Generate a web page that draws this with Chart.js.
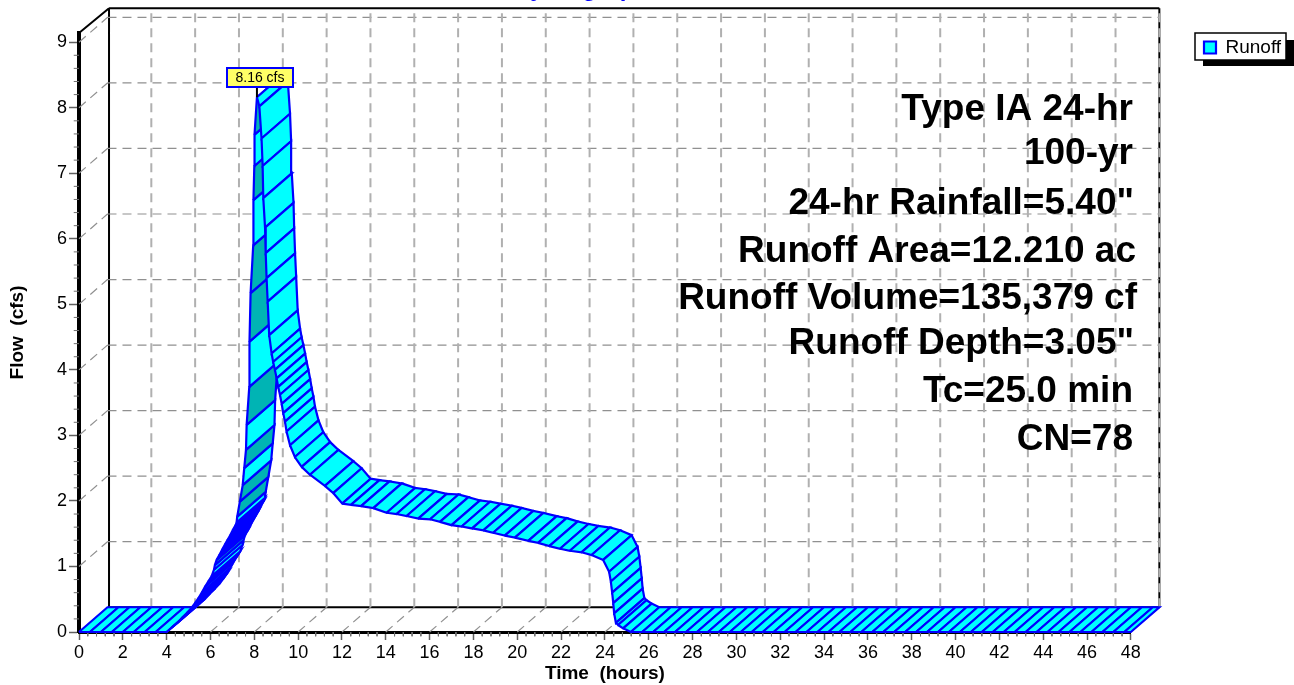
<!DOCTYPE html>
<html lang="en">
<head>
  <meta charset="UTF-8" />
  <title>Hydrograph</title>
  <script src="https://cdn.jsdelivr.net/npm/chart.js"></script>
  <style>
    body { margin: 0; padding: 0; background: #fff; }
    canvas { display: block; }
  </style>
</head>
<body>
  <canvas id="hydrograph" width="1294" height="685"></canvas>

  <script>
    // hydrograph vertices, one per hatch line
    const timeHours = [
      0, 0.5, 1, 1.5, 2, 2.5, 3, 3.5, 4,
      4.23, 4.46, 4.68, 4.91, 5.14, 5.29, 5.44, 5.6, 5.75, 5.9, 6.05, 6.16, 6.2, 6.28, 6.4, 6.52, 6.65, 6.77, 6.89, 7.01, 7.13, 7.19,
      7.22, 7.34, 7.47, 7.54, 7.62, 7.65, 7.77, 7.78, 7.83, 7.95, 7.96, 8.0, 8.01, 8.12,
      8.23, 8.33, 8.38, 8.41, 8.49, 8.52, 8.56, 8.61, 8.68, 8.79, 8.86, 8.94, 9.02, 9.09, 9.17, 9.25, 9.32, 9.4, 9.47, 9.63, 9.85, 10.16, 10.54, 11.22, 11.6,
      12.01, 12.41, 12.87, 13.43, 14.04, 14.49, 14.95, 15.48, 16.02, 16.47, 17.0, 17.46, 17.94, 18.45, 18.9, 19.43, 19.89, 20.5, 20.95, 21.46, 21.95, 22.4, 22.93, 23.39,
      23.92, 24.19, 24.27, 24.33, 24.38, 24.42, 24.5, 24.6, 24.83, 25.18,
      25.7, 26.2, 26.7, 27.2, 27.7, 28.2, 28.7, 29.2, 29.7, 30.2, 30.7, 31.2, 31.7, 32.2, 32.7, 33.2, 33.7, 34.2, 34.7, 35.2, 35.7, 36.2, 36.7, 37.2, 37.7, 38.2, 38.7, 39.2, 39.7, 40.2, 40.7, 41.2, 41.7, 42.2, 42.7, 43.2, 43.7, 44.2, 44.7, 45.2, 45.7, 46.2, 46.7, 47.2, 47.7, 48
    ];
    const flowCfs = [
      0, 0, 0, 0, 0, 0, 0, 0, 0,
      0.066, 0.13, 0.21, 0.285, 0.37, 0.44, 0.51, 0.6, 0.69, 0.77, 0.85, 0.95, 1.02, 1.1, 1.17, 1.25, 1.33, 1.4, 1.47, 1.55, 1.62, 1.67,
      1.76, 1.99, 2.24, 2.5, 2.78, 3.16, 3.74, 4.43, 5.17, 5.9, 6.59, 7.11, 7.59, 8.16,
      8.02, 7.53, 7.11, 6.62, 6.17, 5.78, 5.4, 5.04, 4.53, 4.25, 4.12, 4.0, 3.87, 3.74, 3.62, 3.48, 3.34, 3.21, 3.06, 2.85, 2.67, 2.52, 2.4, 2.23, 2.12,
      1.96, 1.94, 1.92, 1.89, 1.82, 1.8, 1.77, 1.73, 1.72, 1.68, 1.63, 1.61, 1.58, 1.55, 1.515, 1.47, 1.44, 1.39, 1.36, 1.31, 1.27, 1.24, 1.216, 1.175,
      1.1, 0.92, 0.77, 0.6, 0.44, 0.285, 0.14, 0.107, 0.056, 0,
      0, 0, 0, 0, 0, 0, 0, 0, 0, 0, 0, 0, 0, 0, 0, 0, 0, 0, 0, 0, 0, 0, 0, 0, 0, 0, 0, 0, 0, 0, 0, 0, 0, 0, 0, 0, 0, 0, 0, 0, 0, 0, 0, 0, 0, 0
    ];
    // rising-limb bands that come out darker, by flow at their lower edge
    const darkBandFlows = [1.02, 1.25, 1.47, 1.76, 1.99, 2.5, 3.16, 4.43, 5.17, 6.59, 7.59];

    const timeTicks = [0, 2, 4, 6, 8, 10, 12, 14, 16, 18, 20, 22, 24, 26, 28, 30, 32, 34, 36, 38, 40, 42, 44, 46, 48];
    const flowTicks = [0, 1, 2, 3, 4, 5, 6, 7, 8, 9];
    const annotationLines = [
      'Type IA 24-hr', '100-yr', '24-hr Rainfall=5.40"', 'Runoff Area=12.210 ac',
      'Runoff Volume=135,379 cf', 'Runoff Depth=3.05"', 'Tc=25.0 min', 'CN=78'
    ];

    const FONT = '"Liberation Sans", Arial, sans-serif';
    Chart.defaults.font.family = FONT;

    // 3d box: depth offset of the back wall, in axis units
    const depthX = 1.3;
    const depthY = 0.378;
    const xMax = 48;
    const yMax = 9.14;

    const gap = { x: null, y: null };
    const segments = list => list.flatMap(([a, b]) => [a, b, gap]);

    const wallVerticals = segments(
      timeTicks.slice(1).map(t => [{ x: t + depthX, y: depthY }, { x: t + depthX, y: yMax + depthY }])
    );
    const wallLines = segments([
      ...timeTicks.slice(1).map(t => [{ x: t, y: 0 }, { x: t + depthX, y: depthY }]),
      ...flowTicks.slice(1).map(q => [{ x: depthX, y: q + depthY }, { x: xMax + depthX, y: q + depthY }]),
      ...flowTicks.slice(1).map(q => [{ x: 0, y: q }, { x: depthX, y: q + depthY }])
    ]);

    const backX = depthX + 0.07;
    const frameLines = segments([
      [{ x: 0, y: yMax }, { x: backX, y: yMax + depthY }],
      [{ x: backX, y: yMax + depthY }, { x: xMax + depthX, y: yMax + depthY }],
      [{ x: xMax + depthX, y: yMax + depthY }, { x: xMax + depthX, y: depthY }],
      [{ x: backX, y: yMax + depthY }, { x: backX, y: depthY }],
      [{ x: backX, y: depthY }, { x: xMax + depthX, y: depthY }]
    ]);

    const minorLines = [];
    timeTicks.slice(0, -1).forEach(t => {
      [0.4, 0.8, 1.2, 1.6].forEach(d => minorLines.push([{ x: t + d, y: 0 }, { x: t + d, y: -0.065 }]));
    });
    flowTicks.forEach(q => {
      [0.2, 0.4, 0.6, 0.8].forEach(d => {
        if (q + d < yMax) minorLines.push([{ x: 0, y: q + d }, { x: -0.24, y: q + d }]);
      });
    });

    const peakFlow = Math.max(...flowCfs);
    const peakIndex = flowCfs.indexOf(peakFlow);

    // one closed ribbon cell per time step, later ones paint over earlier ones
    const ribbonCells = timeHours.slice(0, -1).map((t, i) => {
      const t2 = timeHours[i + 1];
      const q = flowCfs[i];
      const q2 = flowCfs[i + 1];
      const dark = i < peakIndex && q > 0 && darkBandFlows.includes(q);
      return {
        type: 'scatter',
        label: i === 0 ? 'Runoff' : '',
        order: -i,
        data: [
          { x: t, y: q }, { x: t2, y: q2 },
          { x: t2 + depthX, y: q2 + depthY }, { x: t + depthX, y: q + depthY },
          { x: t, y: q }
        ],
        showLine: true,
        clip: false,
        pointRadius: 0,
        borderColor: '#0000ff',
        borderWidth: 2.2,
        backgroundColor: dark ? '#00b4b4' : '#00ffff',
        ribbon: true
      };
    });

    const helperLine = (data, color, width, dash, order) => ({
      type: 'scatter',
      label: '',
      order,
      data,
      showLine: true,
      clip: false,
      spanGaps: false,
      pointRadius: 0,
      borderColor: color,
      borderWidth: width,
      borderDash: dash
    });

    const ribbonFill = {
      id: 'ribbonFill',
      beforeDatasetDraw(chart, args) {
        const ds = chart.data.datasets[args.index];
        if (!ds.ribbon) return;
        const ctx = chart.ctx;
        const pts = args.meta.data;
        ctx.save();
        ctx.beginPath();
        pts.forEach((p, i) => (i ? ctx.lineTo(p.x, p.y) : ctx.moveTo(p.x, p.y)));
        ctx.closePath();
        ctx.fillStyle = ds.backgroundColor;
        ctx.fill();
        ctx.restore();
      }
    };

    const legendBox = {
      id: 'legendBox',
      afterLayout(chart) {
        const legend = chart.legend;
        const w = legend.width;
        const h = legend.height;
        legend.left = 1194;
        legend.right = 1194 + w;
        legend.top = 28;
        legend.bottom = 28 + h;
      },
      beforeDraw(chart) {
        const ctx = chart.ctx;
        ctx.save();
        ctx.fillStyle = '#000';
        ctx.fillRect(1203, 40, 91, 26);
        ctx.fillStyle = '#fff';
        ctx.strokeStyle = '#000';
        ctx.lineWidth = 1.5;
        ctx.fillRect(1195, 33, 91, 27);
        ctx.strokeRect(1195, 33, 91, 27);
        ctx.restore();
      }
    };

    const notes = {
      id: 'notes',
      afterDatasetsDraw(chart) {
        const ctx = chart.ctx;
        const { x, y } = chart.scales;
        ctx.save();

        // title, the page cuts it off at the top
        ctx.fillStyle = '#0000ff';
        ctx.font = 'bold 24px ' + FONT;
        ctx.textAlign = 'center';
        ctx.textBaseline = 'alphabetic';
        ctx.fillText('Hydrograph', 581, -4);

        ctx.fillStyle = '#000';
        ctx.font = 'bold 37px ' + FONT;
        ctx.textAlign = 'right';
        const noteBase = [120, 164, 214, 262, 309, 354, 402, 450];
        const noteRight = [1133, 1133, 1134, 1136, 1137, 1134, 1133, 1133];
        annotationLines.forEach((line, i) => ctx.fillText(line, noteRight[i], noteBase[i]));

        // peak label
        const px = x.getPixelForValue(timeHours[peakIndex]);
        const py = y.getPixelForValue(peakFlow);
        ctx.strokeStyle = '#000';
        ctx.lineWidth = 2;
        ctx.beginPath();
        ctx.moveTo(px, py);
        ctx.lineTo(px, 87);
        ctx.stroke();
        ctx.fillStyle = '#ffff66';
        ctx.strokeStyle = '#0000ff';
        ctx.fillRect(227, 68, 66, 19);
        ctx.strokeRect(227, 68, 66, 19);
        ctx.fillStyle = '#000';
        ctx.font = '14px ' + FONT;
        ctx.textAlign = 'center';
        ctx.textBaseline = 'middle';
        ctx.fillText(peakFlow.toFixed(2) + ' cfs', 260, 78);
        ctx.restore();
      }
    };

    new Chart(document.getElementById('hydrograph').getContext('2d'), {
      type: 'scatter',
      data: {
        datasets: [
          helperLine(wallVerticals, '#b0b0b0', 2, [9, 6], 1000),
          helperLine(wallLines, '#909090', 1.2, [9, 6], 1000),
          helperLine(frameLines, '#000', 2, [], 1001),
          helperLine(segments(minorLines), '#707070', 1, [], 1002),
          ...ribbonCells
        ]
      },
      options: {
        responsive: false,
        animation: false,
        layout: {
          autoPadding: false,
          padding: { top: 33, right: 66, bottom: 0, left: 0 }
        },
        plugins: {
          tooltip: { enabled: false },
          legend: {
            position: 'right',
            align: 'start',
            labels: {
              filter: item => item.text !== '',
              boxWidth: 12,
              boxHeight: 12,
              padding: 10,
              color: '#000',
              font: { size: 19 }
            }
          }
        },
        scales: {
          x: {
            type: 'linear',
            min: 0,
            max: xMax,
            afterFit: s => { s.height = 53; },
            afterBuildTicks: s => { s.ticks = timeTicks.map(value => ({ value })); },
            grid: { drawOnChartArea: false, tickLength: 8, tickWidth: 1.5, tickColor: '#606060' },
            border: { color: '#000', width: 3 },
            ticks: { maxRotation: 0, autoSkip: false, padding: 2, color: '#000', font: { size: 18 } },
            title: {
              display: true,
              text: 'Time  (hours)',
              color: '#000',
              font: { size: 19, weight: 'bold' },
              padding: { top: 0, bottom: 0 }
            }
          },
          y: {
            type: 'linear',
            min: 0,
            max: yMax,
            afterFit: s => { s.width = 79; },
            afterBuildTicks: s => { s.ticks = flowTicks.map(value => ({ value })); },
            grid: { drawOnChartArea: false, tickLength: 10, tickWidth: 1.5, tickColor: '#606060' },
            border: { color: '#000', width: 4 },
            ticks: { autoSkip: false, padding: 2, color: '#000', font: { size: 18 } },
            title: {
              display: true,
              text: 'Flow  (cfs)',
              color: '#000',
              font: { size: 19, weight: 'bold' },
              padding: { top: 6, bottom: 0 }
            }
          }
        }
      },
      plugins: [ribbonFill, legendBox, notes]
    });
  </script>
</body>
</html>
